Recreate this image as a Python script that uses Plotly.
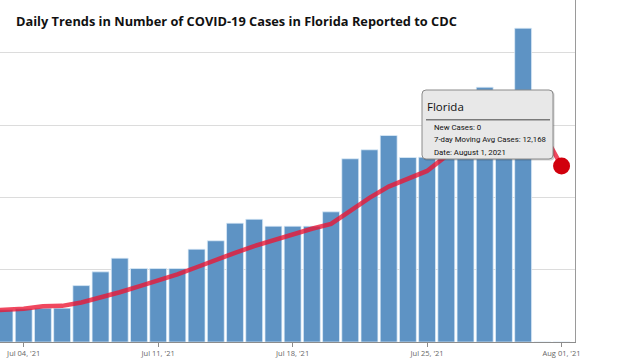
import plotly.graph_objects as go

# ---- data ----
dates = [
    "2021-07-02", "2021-07-03", "2021-07-04", "2021-07-05", "2021-07-06", "2021-07-07",
    "2021-07-08", "2021-07-09", "2021-07-10", "2021-07-11", "2021-07-12", "2021-07-13",
    "2021-07-14", "2021-07-15", "2021-07-16", "2021-07-17", "2021-07-18", "2021-07-19",
    "2021-07-20", "2021-07-21", "2021-07-22", "2021-07-23", "2021-07-24", "2021-07-25",
    "2021-07-26", "2021-07-27", "2021-07-28", "2021-07-29", "2021-07-30", "2021-07-31",
    "2021-08-01",
]
new_cases = [
    2250, 2230, 2300, 2340, 2340, 3900,
    4850, 5800, 5080, 5080, 5080, 6420,
    7000, 8220, 8490, 8010, 8010, 8010,
    9000, 12670, 13290, 14280, 12760, 12780,
    15290, 15290, 17620, 15290, 21700, 0,
    0,
]
moving_avg = [
    2170, 2210, 2300, 2470, 2500, 2730,
    3060, 3440, 3840, 4250, 4670, 5170,
    5690, 6170, 6630, 7020, 7480, 7830,
    8170, 9090, 9970, 10750, 11290, 11830,
    12870, 13770, 14470, 14760, 15820, 14600,
    12168,
]
hover_date = "2021-08-01"
hover_state = "Florida"
hover_new = 0
hover_avg = 12168
title_text = "Daily Trends in Number of COVID-19 Cases in Florida Reported to CDC"

# ---- layout geometry (pixels) ----
W, H = 640, 360
PL, PR, PT, PB = 0, 65, 0, 18
PW, PH = W - PL - PR, H - PT - PB


def px(x):
    return (x - PL) / PW


def py(y):
    return (H - PB - y) / PH


fig = go.Figure()
fig.add_trace(go.Bar(
    x=dates, y=new_cases,
    marker=dict(color="#5e93c4", line=dict(color="rgba(225,238,250,0.9)", width=0.8)),
    hoverinfo="skip",
))
fig.add_trace(go.Scatter(
    x=dates, y=moving_avg, mode="lines",
    line=dict(color="rgba(236,20,50,0.78)", width=4.5),
    hoverinfo="skip",
))
idx = dates.index(hover_date)
fig.add_trace(go.Scatter(
    x=[dates[idx]], y=[moving_avg[idx]], mode="markers",
    marker=dict(color="#d1000d", size=17),
    hoverinfo="skip",
))

# tooltip box
L, R, T, B, rr = 422, 553, 90, 159, 4


def rounded(L, R, T, B, r):
    return (f"M {px(L + r)} {py(T)} L {px(R - r)} {py(T)} Q {px(R)} {py(T)} {px(R)} {py(T + r)} "
            f"L {px(R)} {py(B - r)} Q {px(R)} {py(B)} {px(R - r)} {py(B)} "
            f"L {px(L + r)} {py(B)} Q {px(L)} {py(B)} {px(L)} {py(B - r)} "
            f"L {px(L)} {py(T + r)} Q {px(L)} {py(T)} {px(L + r)} {py(T)} Z")


shapes = [
    dict(type="path", xref="paper", yref="paper", path=rounded(L + 1, R + 1.5, T + 1, B + 1.5, rr),
         fillcolor="rgba(0,0,0,0.18)", line=dict(width=0), layer="above"),
    dict(type="path", xref="paper", yref="paper", path=rounded(L, R, T, B, rr),
         fillcolor="#e8e8e8", line=dict(color="#8a8a8a", width=1), layer="above"),
    dict(type="line", xref="paper", yref="paper", x0=px(426), x1=px(550), y0=py(119.7), y1=py(119.7),
         line=dict(color="#7a7a7a", width=1.6), layer="above"),
]

tip_font = dict(family="Roboto", size=7.8, color="#111111")
annotations = [
    dict(text=f"<b>{title_text}</b>", xref="paper", yref="paper", x=px(14), y=py(21),
         xanchor="left", yanchor="middle", showarrow=False,
         font=dict(family="Open Sans", size=12.8, color="#111111")),
    dict(text=hover_state, xref="paper", yref="paper", x=px(425), y=py(106),
         xanchor="left", yanchor="middle", showarrow=False,
         font=dict(family="Open Sans", size=11.5, color="#111111")),
    dict(text=f"New Cases: {hover_new:,}", xref="paper", yref="paper", x=px(432), y=py(127),
         xanchor="left", yanchor="middle", showarrow=False, font=tip_font),
    dict(text=f"7-day Moving Avg Cases: {hover_avg:,}", xref="paper", yref="paper", x=px(432), y=py(139.5),
         xanchor="left", yanchor="middle", showarrow=False, font=tip_font),
    dict(text="Date: August 1, 2021", xref="paper", yref="paper", x=px(432), y=py(152),
         xanchor="left", yanchor="middle", showarrow=False, font=tip_font),
]

fig.update_layout(
    width=W, height=H,
    margin=dict(l=PL, r=PR, t=PT, b=PB, pad=0),
    paper_bgcolor="white", plot_bgcolor="white",
    showlegend=False, bargap=0.12,
    shapes=shapes, annotations=annotations,
    xaxis=dict(
        type="date", range=["2021-07-02 18:23", "2021-08-01 16:48"],
        tickvals=["2021-07-04", "2021-07-11", "2021-07-18", "2021-07-25", "2021-08-01"],
        tickformat="%b %d, '%y",
        tickfont=dict(family="Open Sans", size=7.5, color="#666666"),
        showgrid=False, showline=True, linecolor="#8c8c8c", linewidth=1.3,
        ticks="outside", ticklen=4, tickcolor="#8c8c8c", zeroline=False,
    ),
    yaxis=dict(
        range=[0, 23650], dtick=5000, side="right",
        showticklabels=False, showgrid=True, gridcolor="#dcdcdc", gridwidth=1,
        showline=True, linecolor="#9a9a9a", linewidth=1.3, zeroline=False,
    ),
)

fig.write_html("out.html", config={"displayModeBar": False, "staticPlot": True},
               post_script="document.body.style.margin='0';document.body.style.overflow='hidden';")
